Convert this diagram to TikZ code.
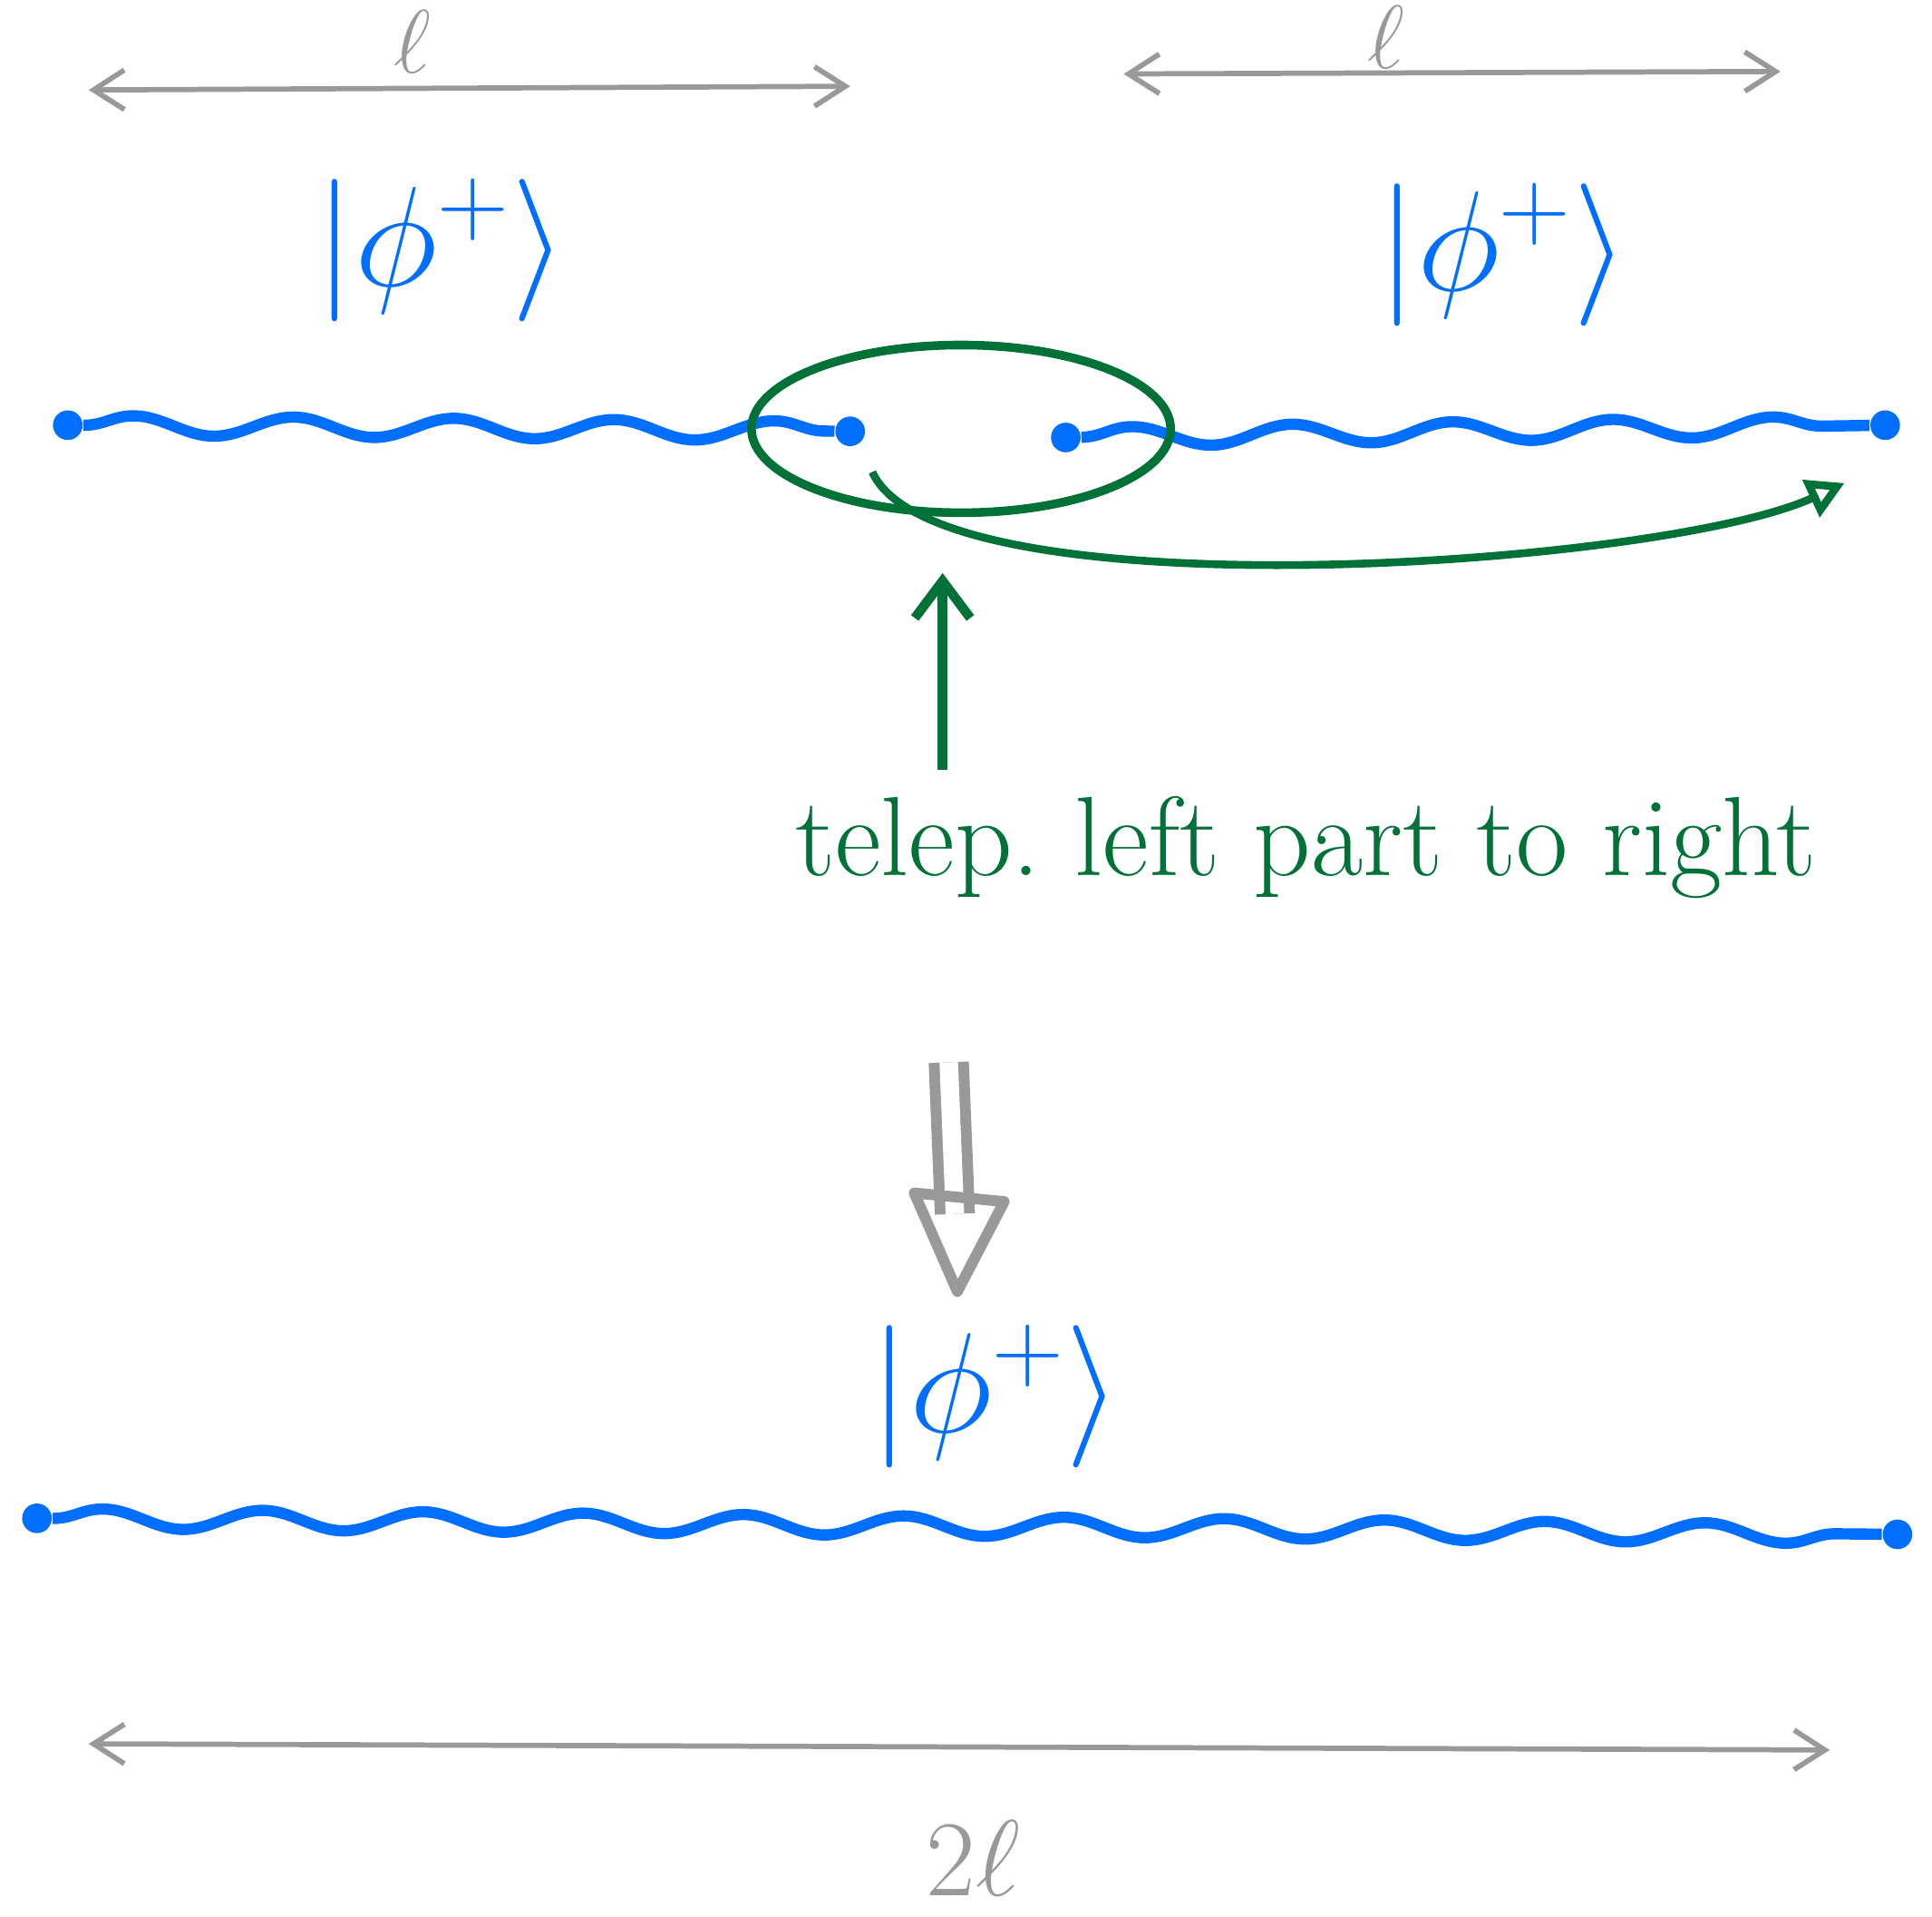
\documentclass[tikz,border=0pt]{standalone}
\usepackage{graphicx}
\usetikzlibrary{decorations.pathmorphing,arrows.meta,shapes.geometric}
\definecolor{qblue}{RGB}{0,110,255}
\definecolor{qgreen}{RGB}{0,114,56}
\definecolor{qgrey}{RGB}{153,153,153}
\newcommand{\bigket}{\scalebox{1.32}{$|\phi^{+}\rangle$}}
\begin{document}
\begin{tikzpicture}[x=0.01cm,y=-0.01cm,
  wire/.style={qblue, line width=2.6pt, decorate, decoration={snake, segment length=1.3cm, amplitude=0.08cm}},
  qdot/.style={circle, fill=qblue, inner sep=0pt, minimum size=0.24cm},
  dimarrow/.style={qgrey, line width=1.2pt, {Straight Barb[length=0.25cm,width=0.32cm]}-{Straight Barb[length=0.25cm,width=0.32cm]}},
  dimlabel/.style={text=qgrey, inner sep=0pt, font=\fontsize{20}{24}\selectfont},
  ket/.style={text=qblue, font=\fontsize{24}{28}\selectfont},
  greenline/.style={qgreen, line width=1.8pt},
  note/.style={text=qgreen, font=\fontsize{26}{30}\selectfont}]
\useasboundingbox (0,0) rectangle (1568,1555);

% top dimension arrows
\coordinate (tl1) at (72,73);
\coordinate (tl2) at (690,70);
\draw[dimarrow] (tl1) -- (tl2);
\node[dimlabel] (ell1) at (335,34) {$\ell$};
\coordinate (tr1) at (912,60);
\coordinate (tr2) at (1445,58);
\draw[dimarrow] (tr1) -- (tr2);
\node[dimlabel] (ell2) at (1125,30) {$\ell$};

% kets
\node[ket] (k1) at (358,203) {\bigket};
\node[ket] (k2) at (1220,207) {\bigket};

% top wires
\node[qdot] (a1) at (55,345) {};
\node[qdot] (a2) at (690,350) {};
\node[qdot] (b1) at (865,355) {};
\node[qdot] (b2) at (1530,345) {};
\draw[wire] (a1) -- (a2);
\draw[wire] (b1) -- (b2);

% ellipse around the middle pair
\node[ellipse, draw=qgreen, line width=2pt, minimum width=3.4cm, minimum height=1.36cm] (pair) at (780,348) {};

% curved teleport arrow
\coordinate (cs) at (708,383);
\coordinate (ce) at (1497,392);
\draw[greenline, -{Triangle[open,length=0.3cm,width=0.32cm]}] (cs) .. controls (760,500) and (1350,460) .. (ce);

% annotation
\node[note] (txt) at (1060,688) {telep.\ left part to right};
\coordinate (ub) at (765,625);
\coordinate (ut) at (765,465);
\draw[greenline, line width=2.2pt, -{Straight Barb[length=0.3cm,width=0.45cm]}] (ub) -- (ut);

% big implication arrow
\coordinate (da) at (770,862);
\coordinate (dm) at (775,985);
\coordinate (db) at (777,1048);
\draw[qgrey, line width=2.5pt, double distance=0.15cm] (da) -- (dm);
\draw[qgrey, line width=2.5pt, line join=round] (742,968) -- (815,975) -- (db) -- cycle;

% bottom ket and wire
\node[ket] (k3) at (808,1133) {\bigket};
\node[qdot] (c1) at (30,1232) {};
\node[qdot] (c2) at (1540,1245) {};
\draw[wire] (c1) -- (c2);

% bottom dimension arrow
\coordinate (bl1) at (72,1415);
\coordinate (bl2) at (1485,1420);
\draw[dimarrow] (bl1) -- (bl2);
\node[dimlabel, font=\fontsize{24}{28}\selectfont] (ell3) at (790,1508) {$2\ell$};
\end{tikzpicture}
\end{document}
